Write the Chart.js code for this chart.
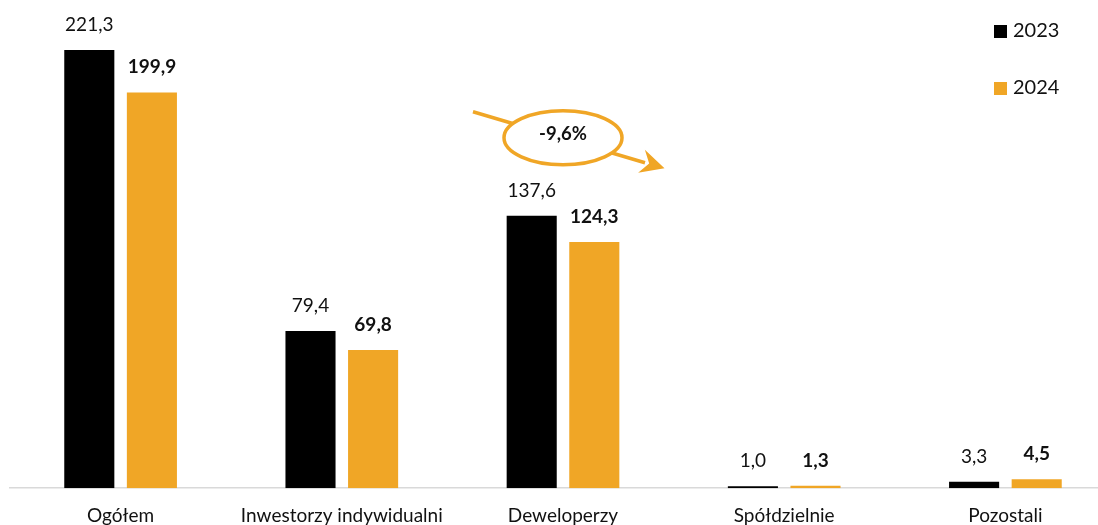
<!DOCTYPE html>
<html>
<head>
<meta charset="utf-8">
<script src="https://cdn.jsdelivr.net/npm/chart.js@4"></script>
<style>
  html, body { margin: 0; padding: 0; background: #fff; overflow: hidden; }
  #wrap { width: 1116px; height: 535px; position: relative; }
</style>
</head>
<body>
<div id="wrap"><canvas id="barChart"></canvas></div>
<script>
// dane z wykresu
const categories = ["Ogółem", "Inwestorzy indywidualni", "Deweloperzy", "Spółdzielnie", "Pozostali"];
const values2023 = [221.3, 79.4, 137.6, 1.0, 3.3];
const values2024 = [199.9, 69.8, 124.3, 1.3, 4.5];
const seriesLabels = ["2023", "2024"];
const changeLabel = "-9,6%";

const FONT = "Lato, 'Open Sans', sans-serif";
const BLACK = "#000000";
const ORANGE = "#F0A626";

// etykiety wartości nad słupkami
const valueLabels = {
    id: "valueLabels",
    afterDatasetsDraw(chart) {
        const ctx = chart.ctx;
        ctx.save();
        ctx.textAlign = "center";
        ctx.textBaseline = "alphabetic";
        ctx.fillStyle = "#111";
        chart.data.datasets.forEach((ds, i) => {
            ctx.font = (i === 1 ? "bold " : "") + "19px " + FONT;
            chart.getDatasetMeta(i).data.forEach((bar, j) => {
                const txt = ds.data[j].toFixed(1).replace(".", ",");
                ctx.fillText(txt, bar.x, bar.y - 19);
            });
        });
        ctx.restore();
    }
};

// legenda w prawym górnym rogu
const cornerLegend = {
    id: "cornerLegend",
    afterDraw(chart) {
        const ctx = chart.ctx;
        ctx.save();
        ctx.font = "20px " + FONT;
        ctx.textBaseline = "middle";
        chart.data.datasets.forEach((ds, i) => {
            const y = 31 + i * 57;
            ctx.fillStyle = ds.backgroundColor;
            ctx.fillRect(994, y - 6, 13, 13);
            ctx.fillStyle = "#111";
            ctx.fillText(ds.label, 1013, y);
        });
        ctx.restore();
    }
};

// elipsa ze strzałką przy Deweloperzy
const changeBadge = {
    id: "changeBadge",
    afterDraw(chart) {
        const ctx = chart.ctx;
        const x = chart.scales.x, y = chart.scales.y;
        const cx = x.getPixelForValue(2);
        const cy = y.getPixelForValue(177);
        ctx.save();
        ctx.strokeStyle = ORANGE;
        ctx.fillStyle = ORANGE;
        ctx.lineWidth = 3.5;
        // linia strzałki
        const x0 = cx - 90, y0 = cy - 26;
        const x1 = cx + 90, y1 = cy + 27;
        ctx.beginPath();
        ctx.moveTo(x0, y0);
        ctx.lineTo(x1 - 8, y1 - 2);
        ctx.stroke();
        // grot
        const ang = Math.atan2(y1 - y0, x1 - x0);
        ctx.beginPath();
        ctx.moveTo(x1 + 12 * Math.cos(ang), y1 + 12 * Math.sin(ang));
        ctx.lineTo(x1 - 12 * Math.cos(ang) + 12 * Math.sin(ang), y1 - 12 * Math.sin(ang) - 12 * Math.cos(ang));
        ctx.lineTo(x1 - 4 * Math.cos(ang), y1 - 4 * Math.sin(ang));
        ctx.lineTo(x1 - 12 * Math.cos(ang) - 12 * Math.sin(ang), y1 - 12 * Math.sin(ang) + 12 * Math.cos(ang));
        ctx.closePath();
        ctx.fill();
        // elipsa
        ctx.beginPath();
        ctx.ellipse(cx, cy, 59, 27, 0, 0, Math.PI * 2);
        ctx.fillStyle = "#fff";
        ctx.fill();
        ctx.stroke();
        ctx.fillStyle = "#111";
        ctx.font = "bold 18.5px " + FONT;
        ctx.textAlign = "center";
        ctx.textBaseline = "middle";
        ctx.fillText(changeLabel, cx, cy - 4);
        ctx.restore();
    }
};

const ctx = document.getElementById("barChart").getContext("2d");
new Chart(ctx, {
    type: "bar",
    data: {
        labels: categories,
        datasets: [
            { label: seriesLabels[0], data: values2023, backgroundColor: BLACK },
            { label: seriesLabels[1], data: values2024, backgroundColor: ORANGE }
        ]
    },
    options: {
        responsive: true,
        maintainAspectRatio: false,
        animation: false,
        layout: { padding: { top: 13, left: 10, right: 0, bottom: 0 } },
        datasets: { bar: { categoryPercentage: 0.566, barPercentage: 0.8 } },
        plugins: { legend: { display: false }, tooltip: { enabled: false } },
        scales: {
            x: {
                grid: { display: false },
                border: { color: "#d9d9d9", width: 1.5 },
                ticks: { color: "#111", font: { family: FONT, size: 19 }, padding: 8, maxRotation: 0 }
            },
            y: {
                display: false,
                min: 0,
                max: 240
            }
        }
    },
    plugins: [valueLabels, cornerLegend, changeBadge]
});
</script>
</body>
</html>
